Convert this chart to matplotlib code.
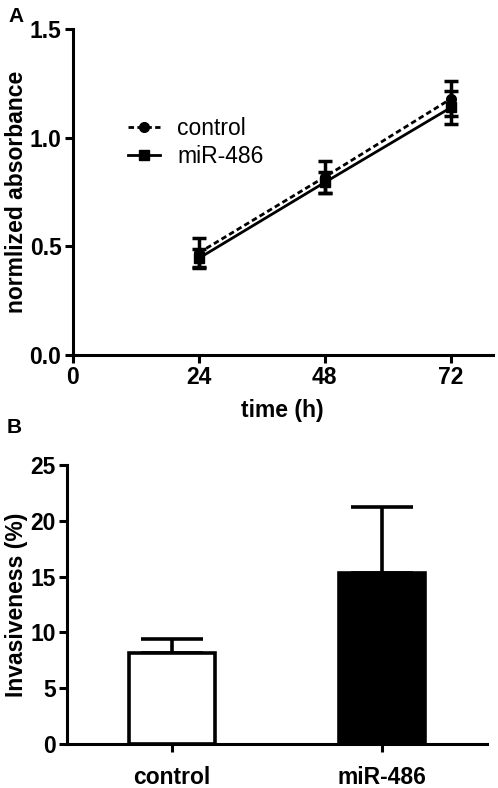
import matplotlib
matplotlib.use("Agg")
import matplotlib.pyplot as plt
from matplotlib.lines import Line2D
import numpy as np

plt.rcParams['font.family'] = ['Liberation Sans', 'DejaVu Sans']

# Panel A data
time_h = [24, 48, 72]
control_abs = [0.47, 0.82, 1.18]
control_err = [0.07, 0.075, 0.08]
mir_abs = [0.445, 0.795, 1.14]
mir_err = [0.042, 0.05, 0.075]
xticks_a = [0, 24, 48, 72]
yticks_a = [0.0, 0.5, 1.0, 1.5]

# Panel B data
groups = ['control', 'miR-486']
invasiveness = [8.2, 15.3]
invasiveness_err = [1.25, 5.95]
bar_colors = ['white', 'black']
yticks_b = [0, 5, 10, 15, 20, 25]

fig = plt.figure(figsize=(4.98, 7.88), dpi=100)
lw = 2.2
fs = 16.5

# ---------- Panel A ----------
axA = fig.add_axes([0.1456, 0.5495, 0.8444, 0.4133])
dash = (0, (2, 1.2))
axA.errorbar(time_h, control_abs, yerr=control_err, color='black', ls=dash,
             lw=2.0, marker='o', ms=7, capsize=5, capthick=2.5, elinewidth=2.5,
             zorder=3)
axA.errorbar(time_h, mir_abs, yerr=mir_err, color='black', ls='-',
             lw=2.0, marker='s', ms=7, capsize=5, capthick=2.5, elinewidth=2.5,
             zorder=3)
axA.set_xlim(0, 80)
axA.set_ylim(0, 1.5)
axA.set_xticks(xticks_a)
axA.set_yticks(yticks_a)
axA.set_yticklabels([f"{v:.1f}" for v in yticks_a])
for s in ['top', 'right']:
    axA.spines[s].set_visible(False)
for s in ['left', 'bottom']:
    axA.spines[s].set_linewidth(lw)
axA.tick_params(width=lw, length=6, labelsize=fs, pad=2)
for lab in axA.get_xticklabels() + axA.get_yticklabels():
    lab.set_fontweight('bold')
axA.set_xlabel('time (h)', fontsize=fs, fontweight='bold', labelpad=7)
axA.set_ylabel('normlized absorbance', fontsize=fs, fontweight='bold', labelpad=1)
handles = [Line2D([], [], color='black', ls=dash, lw=2.0, marker='o', ms=7),
           Line2D([], [], color='black', ls='-', lw=2.0, marker='s', ms=7)]
axA.legend(handles, ['control', 'miR-486'], loc='upper left',
           bbox_to_anchor=(0.083, 0.795), frameon=False,
           fontsize=fs, handlelength=1.4, handletextpad=0.75, labelspacing=0.25)
fig.text(0.018, 0.979, 'A', fontsize=15, fontweight='bold', va='center')

# ---------- Panel B ----------
axB = fig.add_axes([0.1345, 0.0558, 0.8434, 0.3541])
xpos = np.arange(len(groups))
axB.bar(xpos, invasiveness, width=0.405, color=bar_colors, edgecolor='black',
        linewidth=2.6, zorder=2)
axB.errorbar(xpos, invasiveness, yerr=[[0] * len(groups), invasiveness_err],
             fmt='none', ecolor='black', elinewidth=2.6, capsize=22, capthick=2.6,
             zorder=1)
axB.set_xlim(-0.5, 1.5)
axB.set_ylim(0, 25)
axB.set_xticks(xpos)
axB.set_xticklabels(groups)
axB.set_yticks(yticks_b)
for s in ['top', 'right']:
    axB.spines[s].set_visible(False)
for s in ['left', 'bottom']:
    axB.spines[s].set_linewidth(lw)
axB.tick_params(width=lw, length=6, labelsize=fs, pad=2)
axB.tick_params(axis='x', pad=10)
for lab in axB.get_xticklabels() + axB.get_yticklabels():
    lab.set_fontweight('bold')
axB.set_ylabel('Invasiveness (%)', fontsize=fs, fontweight='bold', labelpad=1.5)
fig.text(0.014, 0.457, 'B', fontsize=15, fontweight='bold', va='center')

fig.savefig('out.png', dpi=100)
